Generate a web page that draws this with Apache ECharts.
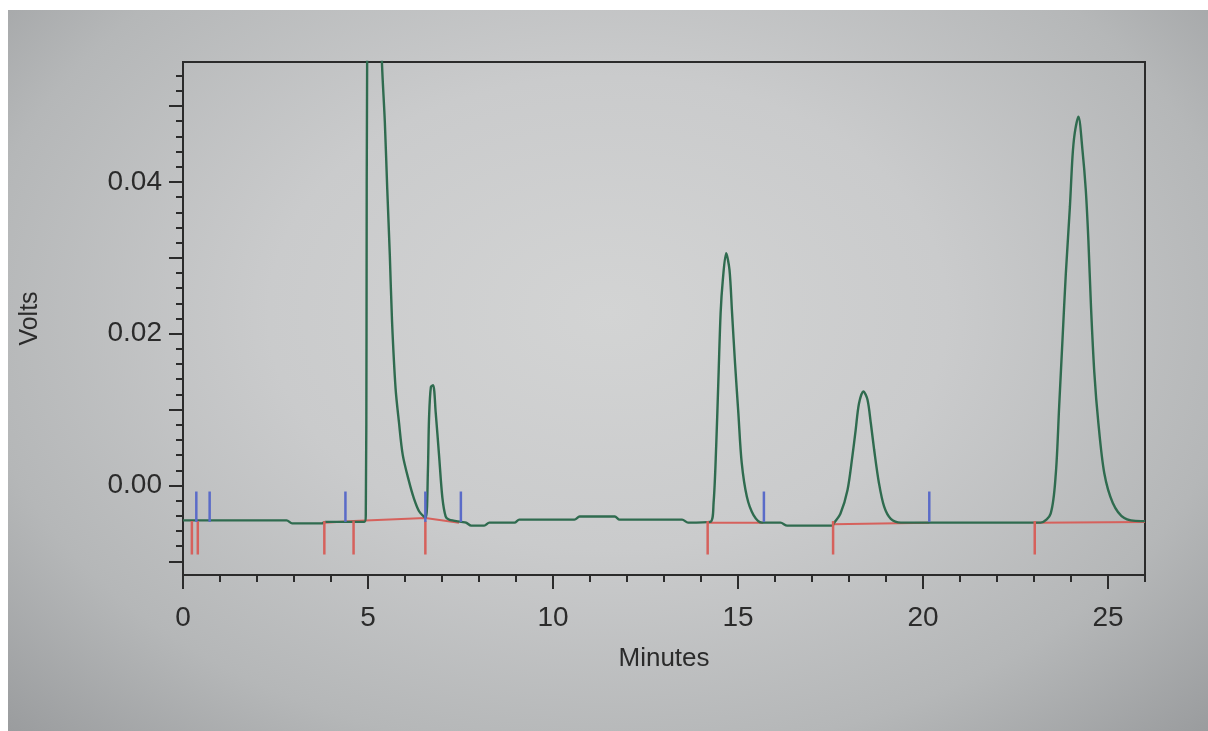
<!DOCTYPE html>
<html>
<head>
<meta charset="utf-8">
<script src="https://cdn.jsdelivr.net/npm/echarts@6/dist/echarts.min.js"></script>
<style>
html,body{margin:0;padding:0;background:#fff;}
#bg{position:absolute;left:8px;top:10px;width:1200px;height:721px;
  background:radial-gradient(ellipse at 50% 42%, #d3d4d4 0%, #cacbcc 40%, #b5b7b8 75%, #9a9c9e 100%);}
#main{position:absolute;left:0;top:0;width:1208px;height:731px;}
</style>
</head>
<body>
<div id="bg"></div>
<div id="main"></div>
<script>
// detector trace (minutes / volts)
var sigT = [0, 2.80, 2.95, 3.75, 3.85, 4.90, 4.94, 4.96, 4.98, 5.15, 5.32, 5.38, 5.455, 5.52, 5.59, 5.65, 5.745, 5.835, 5.94, 6.11, 6.24, 6.38, 6.51,
	6.57, 6.62, 6.65, 6.70, 6.76, 6.83, 6.92, 7.01, 7.10, 7.19, 7.52, 7.65, 7.79, 8.14, 8.28, 8.96, 9.09, 10.58, 10.72, 11.67, 11.80, 13.49, 13.65,
	14.25, 14.34, 14.41, 14.47, 14.53, 14.59, 14.68, 14.77, 14.84, 14.92, 15.01, 15.10, 15.24, 15.42, 15.65, 16.15, 16.33, 17.55,
	17.59, 17.77, 17.96, 18.09, 18.18, 18.27, 18.39, 18.50, 18.59, 18.68, 18.81, 18.95, 19.13, 19.40, 23.18,
	23.45, 23.59, 23.68, 23.77, 23.86, 23.97, 24.04, 24.10, 24.20, 24.31, 24.40, 24.47, 24.54, 24.63, 24.74, 24.90, 25.13, 25.44, 25.89, 26.00];
var sigV = [-0.0046, -0.0046, -0.0050, -0.0050, -0.0048, -0.0048, -0.0040, 0.0200, 0.0600, 0.1100, 0.0650, 0.0553, 0.0479, 0.0391, 0.0303, 0.0216, 0.0128, 0.0084, 0.0040, 0.0005, -0.0017, -0.0034, -0.0041,
	-0.0042, 0.0021, 0.0089, 0.0130, 0.0132, 0.0096, 0.0040, -0.0016, -0.0041, -0.0045, -0.0048, -0.0049, -0.0053, -0.0053, -0.0049, -0.0049, -0.0045, -0.0045, -0.0041, -0.0041, -0.0045, -0.0045, -0.0049,
	-0.0048, -0.0023, 0.0051, 0.0139, 0.0227, 0.0271, 0.0306, 0.0284, 0.0227, 0.0161, 0.0095, 0.0030, -0.0015, -0.0039, -0.0049, -0.0049, -0.0053, -0.0053,
	-0.0050, -0.0037, -0.0006, 0.0038, 0.0073, 0.0108, 0.0124, 0.0113, 0.0082, 0.0047, 0.0003, -0.0028, -0.0044, -0.0049, -0.0049,
	-0.0037, 0.0016, 0.0104, 0.0192, 0.0279, 0.0367, 0.0433, 0.0464, 0.0486, 0.0442, 0.0389, 0.0323, 0.0236, 0.0149, 0.0082, 0.0016, -0.0023, -0.0043, -0.0047, -0.0047];

// integration baselines (null = gap)
var baseT = [3.82, 4.61, 6.55, 7.46, null, 14.18, 15.68, null, 17.57, 20.17, null, 23.02, 26.00];
var baseV = [-0.0049, -0.0047, -0.0043, -0.0049, null, -0.0049, -0.0049, null, -0.0051, -0.0049, null, -0.0049, -0.0048];

// peak start/end marks (red, below) and event marks (blue, above)
var redT = [0.24, 0.40, 3.82, 4.61, 6.55, 14.18, 17.57, 23.02];
var redTop = -0.0047, redBottom = -0.0091;
var blueT = [0.36, 0.72, 4.39, 6.55, 7.51, 15.70, 20.17];
var blueTop = -0.0008, blueBottom = -0.0048;

// axis ticks
var xMajor = [0, 5, 10, 15, 20, 25];
var xMinor = [1, 2, 3, 4, 6, 7, 8, 9, 11, 12, 13, 14, 16, 17, 18, 19, 21, 22, 23, 24, 26];
var yLabels = [0, 0.02, 0.04];
var yMajor = [-0.01, 0, 0.01, 0.02, 0.03, 0.04, 0.05];
var yMinor = [-0.008, -0.006, -0.004, -0.002, 0.002, 0.004, 0.006, 0.008, 0.012, 0.014, 0.016, 0.018,
	0.022, 0.024, 0.026, 0.028, 0.032, 0.034, 0.036, 0.038, 0.042, 0.044, 0.046, 0.048, 0.052, 0.054];

var ink = '#2b2b2b';
var green = '#2f6b4f', red = '#d6615c', blue = '#5a6bc8';

function zip(a, b){
	var out = [];
	for (var i = 0; i < a.length; i++){
		out.push(a[i] == null ? [null, null] : [a[i], b[i]]);
	}
	return out;
}
function marks(ts, lo, hi){
	var out = [];
	for (var i = 0; i < ts.length; i++) out.push([ts[i], lo, hi]);
	return out;
}
function drawMark(params, api){
	var p0 = api.coord([api.value(0), api.value(1)]);
	var p1 = api.coord([api.value(0), api.value(2)]);
	return {type: 'line', shape: {x1: p0[0], y1: p0[1], x2: p1[0], y2: p1[1]},
		style: {stroke: api.visual('color'), lineWidth: 2.5}};
}

var yMin = -0.0118, yMax = 0.0558;
var font = 'Liberation Sans';

function yAxisBase(extra){
	var a = {type: 'value', position: 'left', min: yMin, max: yMax, offset: 0,
		axisLine: {show: true, lineStyle: {color: ink, width: 2}},
		splitLine: {show: false}, axisLabel: {show: false}, axisTick: {show: false}};
	for (var k in extra) a[k] = extra[k];
	return a;
}
function xAxisBase(extra){
	var a = {type: 'value', position: 'bottom', min: 0, max: 26,
		axisLine: {show: true, onZero: false, lineStyle: {color: ink, width: 2}},
		splitLine: {show: false}, axisLabel: {show: false}, axisTick: {show: false}};
	for (var k in extra) a[k] = extra[k];
	return a;
}

var myChart = echarts.init(document.getElementById('main'));
var option = {
	animation: false,
	backgroundColor: 'transparent',
	textStyle: {fontFamily: font},
	grid: {left: 183, right: 63, top: 62, bottom: 156, show: true, borderColor: ink, borderWidth: 2,
		backgroundColor: 'transparent', outerBoundsMode: 'none'},
	xAxis: [
		xAxisBase({
			name: 'Minutes', nameLocation: 'middle', nameGap: 71,
			nameTextStyle: {color: ink, fontSize: 26, fontFamily: font},
			axisTick: {show: true, length: 14, customValues: xMajor, lineStyle: {color: ink, width: 2}},
			axisLabel: {show: true, margin: 29, customValues: xMajor, color: ink, fontSize: 28, fontFamily: font}
		}),
		xAxisBase({
			axisTick: {show: true, length: 7, customValues: xMinor, lineStyle: {color: ink, width: 2}}
		})
	],
	yAxis: [
		yAxisBase({
			name: 'Volts', nameLocation: 'middle', nameGap: 140, nameRotate: 90,
			nameTextStyle: {color: ink, fontSize: 25, fontFamily: font},
			axisTick: {show: true, length: 14, customValues: yMajor, lineStyle: {color: ink, width: 2}},
			axisLabel: {show: true, margin: 21, customValues: yLabels, color: ink, fontSize: 28, fontFamily: font,
				formatter: function (v){ return v.toFixed(2); }}
		}),
		yAxisBase({
			axisTick: {show: true, length: 7, customValues: yMinor, lineStyle: {color: ink, width: 2}}
		})
	],
	series: [
		{
			type: 'line', name: 'baseline', data: zip(baseT, baseV), showSymbol: false, connectNulls: false,
			lineStyle: {color: red, width: 2}, z: 2
		},
		{
			type: 'line', name: 'signal', data: zip(sigT, sigV), showSymbol: false, clip: true,
			smooth: 0.3,
			lineStyle: {color: green, width: 2.4}, z: 3
		},
		{
			type: 'custom', name: 'peak marks', data: marks(redT, redTop, redBottom),
			encode: {x: 0, y: [1, 2]}, renderItem: drawMark, itemStyle: {color: red}, z: 4
		},
		{
			type: 'custom', name: 'event marks', data: marks(blueT, blueBottom, blueTop),
			encode: {x: 0, y: [1, 2]}, renderItem: drawMark, itemStyle: {color: blue}, z: 4
		}
	]
};
myChart.setOption(option);
</script>
</body>
</html>
